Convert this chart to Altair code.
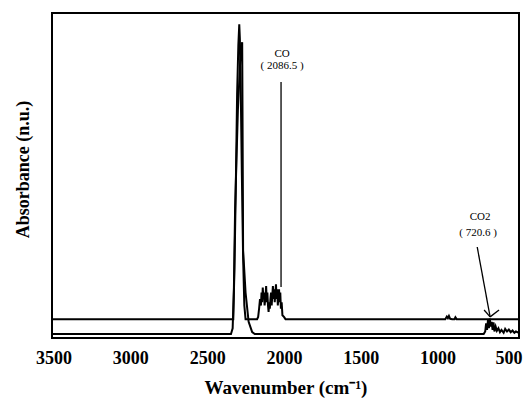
import altair as alt
import pandas as pd

# Upper spectrum (baseline ~5.8)
wn_a = [3510, 3300, 3000, 2700, 2450, 2330, 2322, 2314, 2305, 2297, 2291, 2287, 2281, 2274, 2266, 2258, 2250,
        2200, 2175, 2168, 2162, 2156, 2150, 2146, 2142, 2138, 2134, 2130, 2126, 2120, 2116, 2112, 2108, 2104,
        2100, 2096, 2092, 2088, 2084, 2080, 2076, 2072, 2068, 2064, 2060, 2056, 2052, 2048, 2044, 2040, 2036,
        2032, 2028, 2024, 2020, 2015, 2010, 2000, 1990, 1700, 1400, 1100, 950, 940, 933, 926, 918, 905, 890,
        884, 876, 800, 720, 690, 600, 470]
abs_a = [5.8, 5.8, 5.8, 5.8, 5.8, 5.8, 22, 45, 75, 90, 96.5, 92, 75, 50, 25, 10, 5.8,
         5.8, 5.8, 6.5, 9, 12, 10, 14, 11, 15.5, 12, 14, 10, 13, 16, 11, 14, 10,
         8, 11, 9, 12, 14, 10, 13, 16, 12, 15, 11, 14, 16.5, 12, 15, 10, 13,
         15, 11, 14, 9, 11, 7, 6.5, 5.8, 5.8, 5.8, 5.8, 5.8, 6.6, 6.1, 6.8, 5.9, 5.8, 5.8,
         6.4, 5.8, 5.8, 5.8, 5.8, 5.8, 5.8]

# Lower spectrum (baseline ~1.2)
wn_b = [3510, 3300, 3000, 2700, 2450, 2345, 2334, 2326, 2318, 2300, 2285, 2276, 2272, 2268, 2266, 2250,
        2230, 2207, 2190, 1900, 1500, 1100, 800, 700, 690, 684, 678, 672, 666, 660, 654, 648, 642, 636,
        630, 622, 614, 604, 594, 584, 570, 560, 548, 536, 524, 512, 500, 490, 470]
abs_b = [1.2, 1.2, 1.2, 1.2, 1.2, 1.2, 3, 15, 40, 70, 85, 90, 91, 50, 27, 14,
         5, 1.8, 1.2, 1.2, 1.2, 1.2, 1.2, 1.2, 2, 4.5, 2.5, 5.5, 3, 6, 3.5, 5, 2.5, 4.8,
         2, 3.5, 2.2, 3, 1.8, 2.5, 1.6, 2.8, 2, 2.6, 1.8, 2.3, 1.6, 2, 1.6]

ann_text = ["CO", "( 2086.5 )", "CO2", "( 720.6 )"]
ann_wn = [2012, 2012, 723, 736]
ann_y = [87.4, 83.7, 37.2, 32.3]

seg_wn = [2019, 742, 697, 600]
seg_y = [78.8, 28, 8.6, 8.6]
seg_wn2 = [2019, 658, 658, 658]
seg_y2 = [15.7, 6.5, 6.5, 6.5]

x_ticks = [3500, 3000, 2500, 2000, 1500, 1000, 500]

spec = pd.DataFrame({
    "wn": wn_a + wn_b,
    "a": abs_a + abs_b,
    "trace": ["A"] * len(wn_a) + ["B"] * len(wn_b),
    "i": list(range(len(wn_a))) + list(range(len(wn_b))),
})
ann = pd.DataFrame({"wn": ann_wn, "a": ann_y, "t": ann_text})
seg = pd.DataFrame({"wn": seg_wn, "a": seg_y, "wn2": seg_wn2, "a2": seg_y2})

FONT = "Liberation Serif"
xs = alt.Scale(domain=[3510, 470], nice=False, zero=False)
ys = alt.Scale(domain=[0, 100], nice=False, zero=False)

x_axis = alt.Axis(
    values=x_ticks, format="d", grid=False, domain=False, ticks=False, tickSize=0,
    labelFont=FONT, labelFontWeight="bold", labelFontSize=18, labelColor="black",
    labelBaseline="alphabetic", labelPadding=25, labelOverlap=False, labelFlush=False,
    labelOffset=alt.condition("datum.value == 500", alt.value(-6), alt.value(0)),
    title="Wavenumber (cm\u207b\u00b9)", titleFont=FONT, titleFontWeight="bold",
    titleFontSize=19, titleColor="black", titleX=233.5, titleY=55.5,
    titleAlign="center", titleBaseline="alphabetic")
y_axis = alt.Axis(
    labels=False, ticks=False, domain=False, grid=False,
    title="Absorbance (n.u.)", titleFont=FONT, titleFontWeight="bold",
    titleFontSize=18, titleColor="black", titleX=-29, titleY=156,
    titleAngle=270, titleAlign="center", titleBaseline="middle")

X = alt.X("wn:Q", scale=xs, axis=x_axis)
Y = alt.Y("a:Q", scale=ys, axis=y_axis)

lines = alt.Chart(spec).mark_line(color="black", strokeWidth=2).encode(
    x=X, y=Y, detail="trace:N", order="i:Q",
)

rules = alt.Chart(seg).mark_rule(color="black", strokeWidth=1.3).encode(
    x=X, x2="wn2:Q", y=Y, y2="a2:Q",
)

texts = alt.Chart(ann).mark_text(font=FONT, fontSize=11, color="black").encode(
    x=X, y=Y, text="t:N",
)

chart = alt.layer(lines, rules, texts).properties(
    width=467, height=325,
    autosize=alt.AutoSizeParams(type="none"),
    padding={"left": 44, "top": 5, "right": 4, "bottom": 60},
    background="white",
).configure_view(stroke="black", strokeWidth=2)

chart.save("out.html", embed_options={"renderer": "svg", "actions": False})
